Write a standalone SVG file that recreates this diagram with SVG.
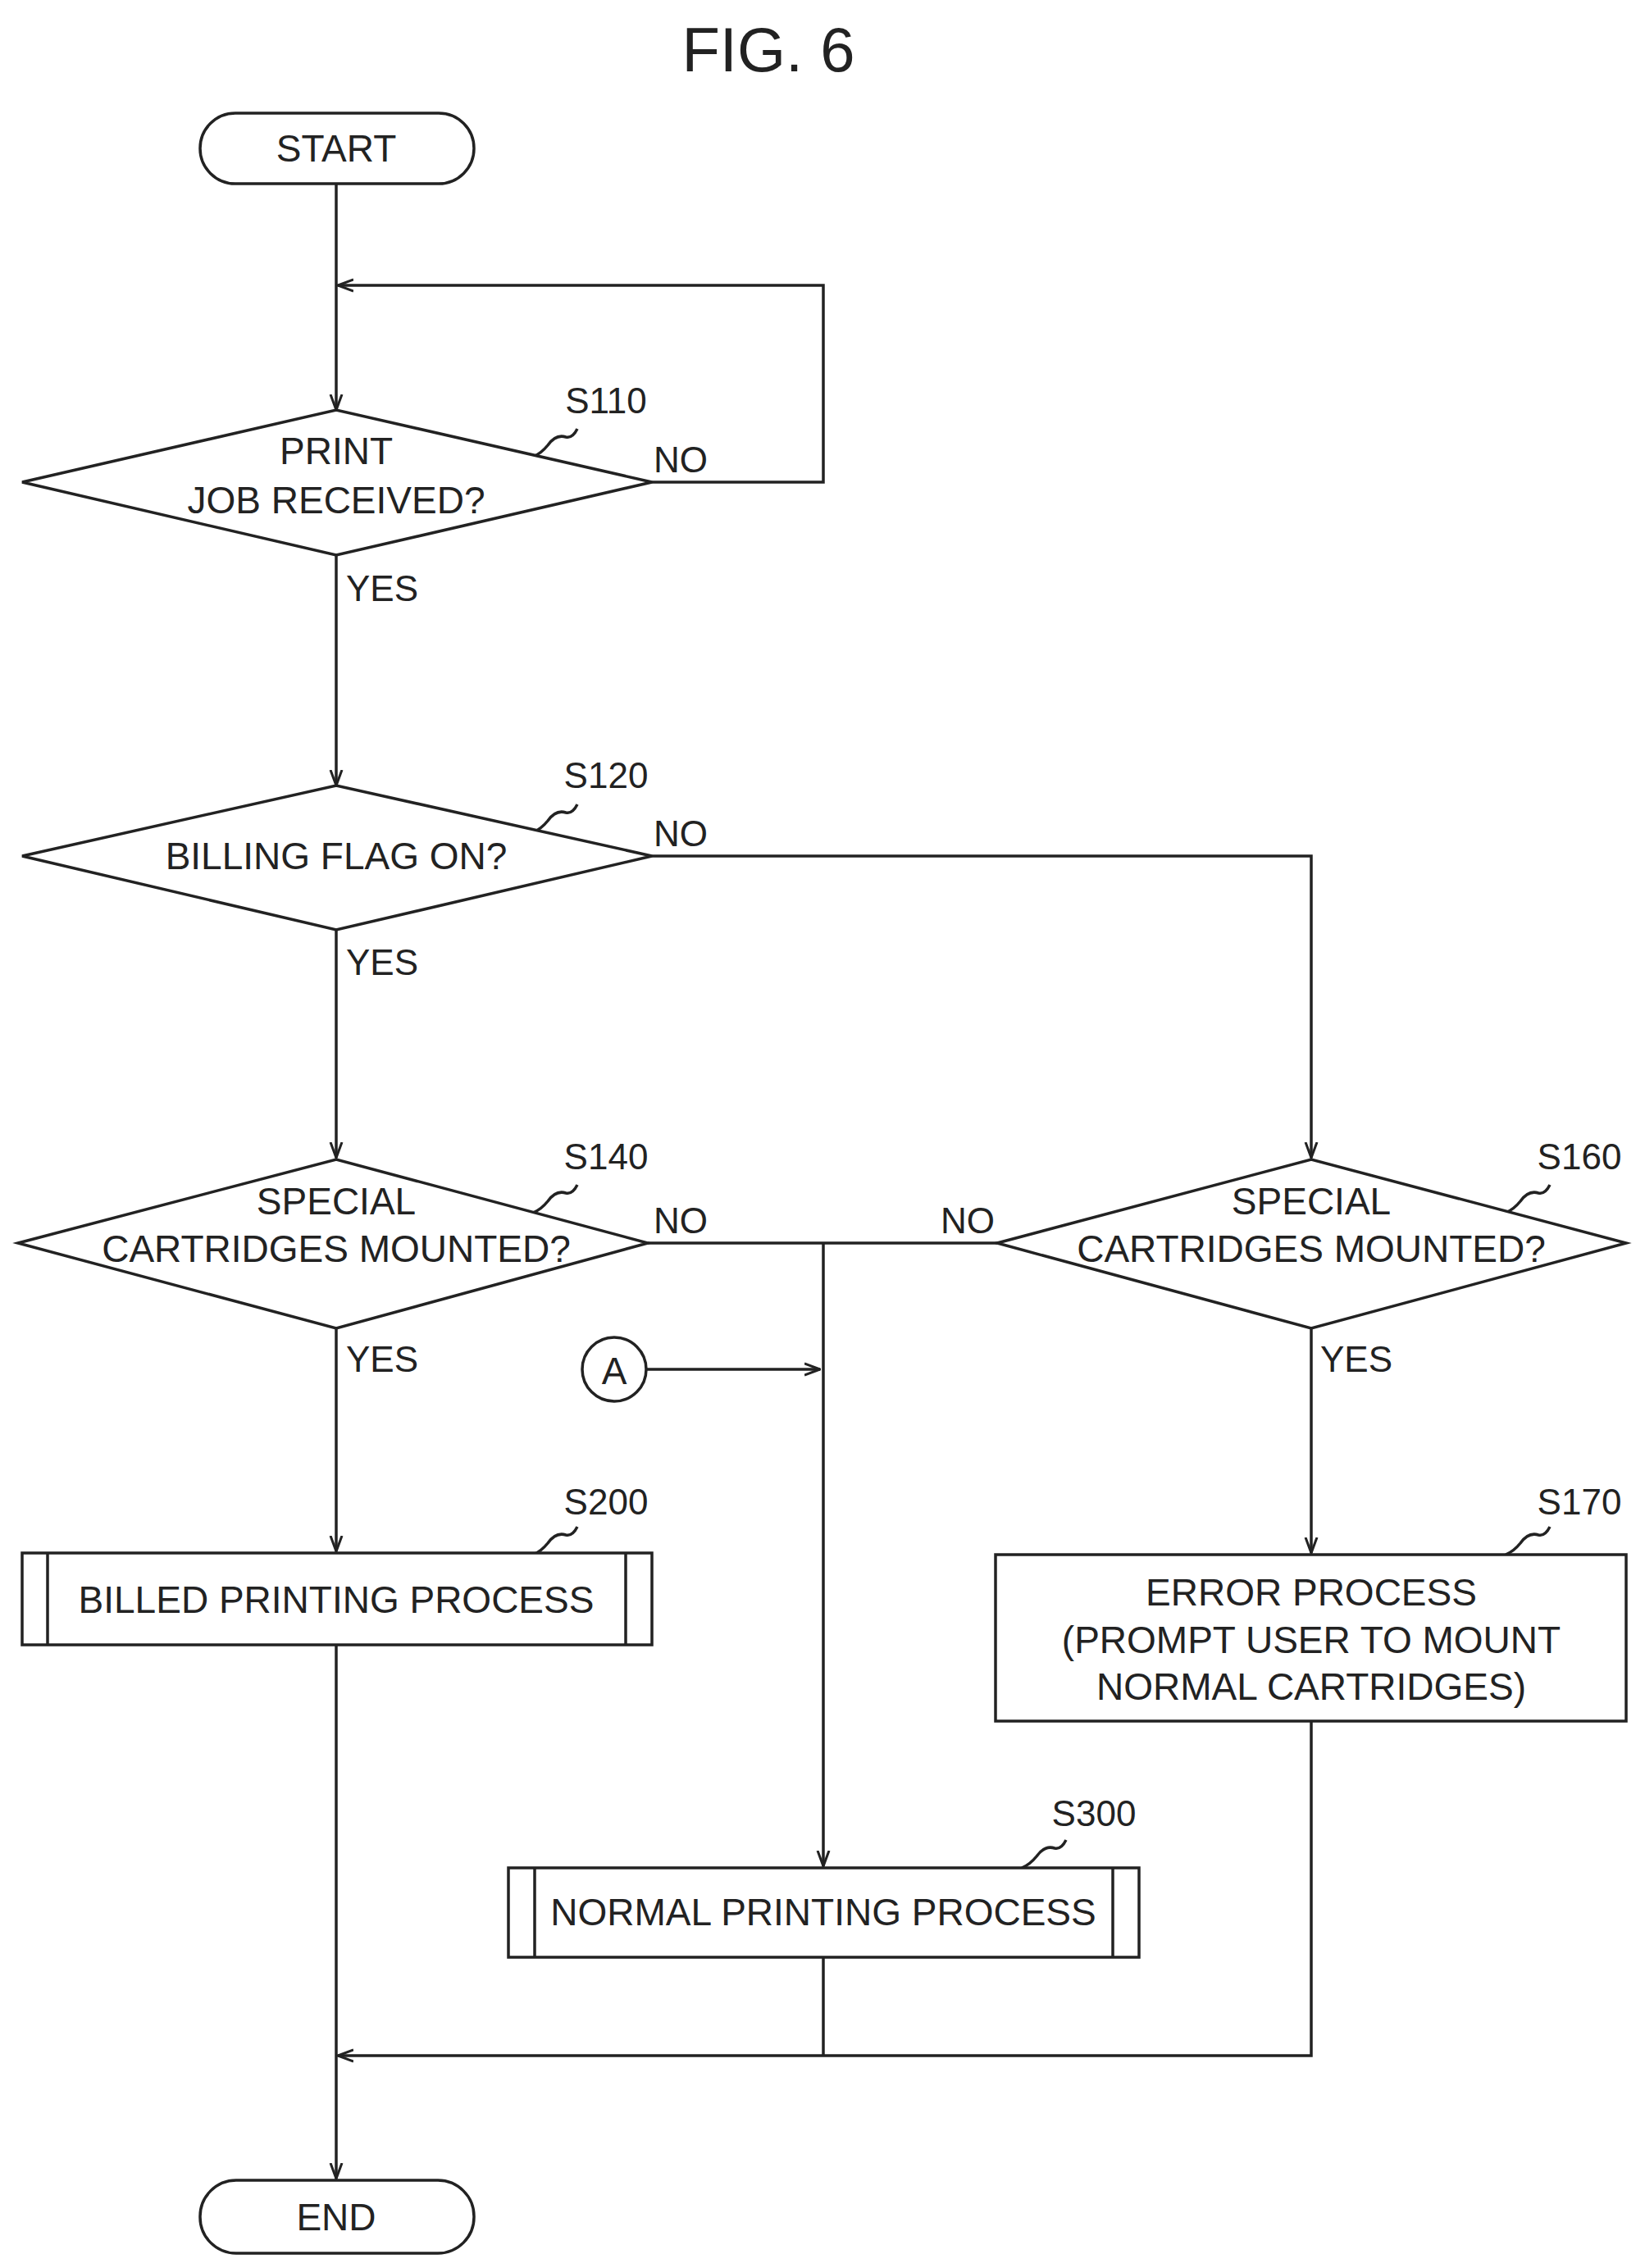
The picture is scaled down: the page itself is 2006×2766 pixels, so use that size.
<svg xmlns="http://www.w3.org/2000/svg" width="2006" height="2766" viewBox="0 0 2006 2766">
<style>
.s{fill:#fff;stroke:#222;stroke-width:3.5}
.l{fill:none;stroke:#222;stroke-width:3.5}
text{font-family:"Liberation Sans",Arial,sans-serif;font-size:46px;fill:#222;text-anchor:middle;dominant-baseline:central}
.lb{font-size:44px}
</style>
<defs>
<marker id="a" viewBox="0 0 20 20" refX="19" refY="10" markerWidth="20" markerHeight="20" markerUnits="userSpaceOnUse" orient="auto">
<path d="M0,3 L19,10 L0,17" fill="none" stroke="#222" stroke-width="3"/>
</marker>
</defs>
<rect width="2006" height="2766" fill="#fff"/>
<text x="937" y="60" style="font-size:76px">FIG. 6</text>
<g id="connectors">
<path class="l" d="M410,224 V500" marker-end="url(#a)"/>
<path class="l" d="M795,588 H1004 V348 H412" marker-end="url(#a)"/>
<path class="l" d="M410,677 V958" marker-end="url(#a)"/>
<path class="l" d="M795,1044 H1599 V1412" marker-end="url(#a)"/>
<path class="l" d="M410,1134 V1412" marker-end="url(#a)"/>
<path class="l" d="M410,1620 V1892" marker-end="url(#a)"/>
<path class="l" d="M1599,1620 V1894" marker-end="url(#a)"/>
<path class="l" d="M790,1516 H1216"/>
<path class="l" d="M1004,1516 V2276" marker-end="url(#a)"/>
<path class="l" d="M788,1670 H1000" marker-end="url(#a)"/>
<path class="l" d="M1599,2099 V2507 H412" marker-end="url(#a)"/>
<path class="l" d="M1004,2387 V2507"/>
<path class="l" d="M410,2006 V2657" marker-end="url(#a)"/>
<path class="l" d="M650,557 q10,-4 18,-14 q10,-14 22,-10 q8,2 14,-10"/>
<path class="l" d="M650,1015 q10,-4 18,-14 q10,-14 22,-10 q8,2 14,-10"/>
<path class="l" d="M650,1479 q10,-4 18,-14 q10,-14 22,-10 q8,2 14,-10"/>
<path class="l" d="M1836,1479 q10,-4 18,-14 q10,-14 22,-10 q8,2 14,-10"/>
<path class="l" d="M650,1896 q10,-4 18,-14 q10,-14 22,-10 q8,2 14,-10"/>
<path class="l" d="M1836,1896 q10,-4 18,-14 q10,-14 22,-10 q8,2 14,-10"/>
<path class="l" d="M1246,2278 q10,-4 18,-14 q10,-14 22,-10 q8,2 14,-10"/>
</g>
<g id="start"><rect class="s" x="244" y="138" width="334" height="86" rx="43"/><text x="410" y="181">START</text></g>
<g id="s110"><polygon class="s" points="27,588 410,500 795,588 410,677"/><text x="410" y="550">PRINT</text><text x="410" y="610">JOB RECEIVED?</text>
<text class="lb" x="739" y="488">S110</text><text class="lb" x="830" y="560">NO</text><text class="lb" x="466" y="717">YES</text></g>
<g id="s120"><polygon class="s" points="27,1044 410,958 795,1044 410,1134"/><text x="410" y="1044">BILLING FLAG ON?</text>
<text class="lb" x="739" y="945">S120</text><text class="lb" x="830" y="1016">NO</text><text class="lb" x="466" y="1173">YES</text></g>
<g id="s140"><polygon class="s" points="22,1516 410,1414 790,1516 410,1620"/><text x="410" y="1465">SPECIAL</text><text x="410" y="1523">CARTRIDGES MOUNTED?</text>
<text class="lb" x="739" y="1410">S140</text><text class="lb" x="830" y="1488">NO</text><text class="lb" x="466" y="1657">YES</text></g>
<g id="s160"><polygon class="s" points="1216,1516 1599,1414 1983,1516 1599,1620"/><text x="1599" y="1465">SPECIAL</text><text x="1599" y="1523">CARTRIDGES MOUNTED?</text>
<text class="lb" x="1926" y="1410">S160</text><text class="lb" x="1180" y="1488">NO</text><text class="lb" x="1654" y="1657">YES</text></g>
<g id="A"><circle class="s" cx="749" cy="1670" r="39"/><text x="749" y="1672">A</text></g>
<g id="s200"><rect class="s" x="27" y="1894" width="768" height="112"/><path class="l" d="M58,1894 V2006 M763,1894 V2006"/><text x="410" y="1951">BILLED PRINTING PROCESS</text><text class="lb" x="739" y="1831">S200</text></g>
<g id="s170"><rect class="s" x="1214" y="1896" width="769" height="203"/><text x="1599" y="1942">ERROR PROCESS</text><text x="1599" y="2000">(PROMPT USER TO MOUNT</text><text x="1599" y="2057">NORMAL CARTRIDGES)</text><text class="lb" x="1926" y="1831">S170</text></g>
<g id="s300"><rect class="s" x="620" y="2278" width="769" height="109"/><path class="l" d="M652,2278 V2387 M1357,2278 V2387"/><text x="1004" y="2332">NORMAL PRINTING PROCESS</text><text class="lb" x="1334" y="2211">S300</text></g>
<g id="end"><rect class="s" x="244" y="2659" width="334" height="89" rx="44"/><text x="410" y="2704">END</text></g>
</svg>
